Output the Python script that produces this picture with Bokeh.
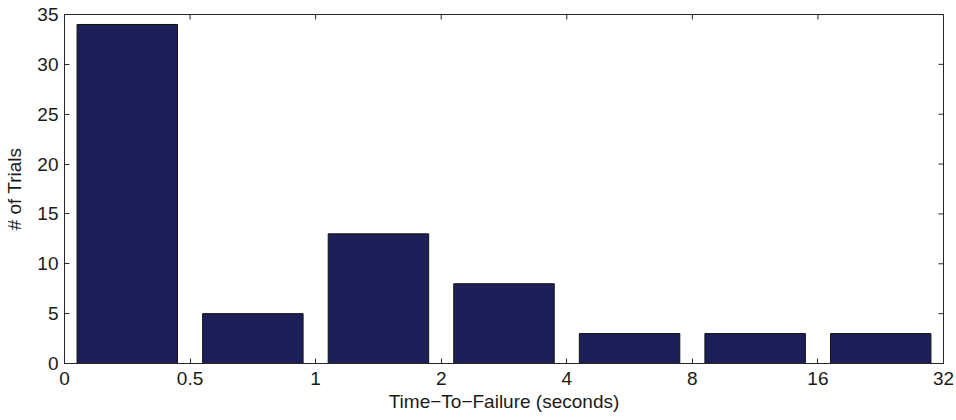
import math
from bokeh.plotting import figure
from bokeh.models import FixedTicker, ColumnDataSource, Range1d
from bokeh.embed import file_html
from bokeh.resources import INLINE

# Data
bin_labels = ["0", "0.5", "1", "2", "4", "8", "16", "32"]
trial_counts = [34, 5, 13, 8, 3, 3, 3]
y_ticks = [0, 5, 10, 15, 20, 25, 30, 35]

centers = [i + 0.5 for i in range(len(trial_counts))]
src = ColumnDataSource(dict(x=centers, top=trial_counts))

FONT = "Liberation Sans"
AX = "#262626"
X_MAX = len(trial_counts)
Y_MAX = y_ticks[-1]

p = figure(width=956, height=420, output_backend="svg", toolbar_location=None,
           x_range=Range1d(0, X_MAX), y_range=Range1d(0, Y_MAX),
           min_border_left=64, min_border_right=13, min_border_top=14, min_border_bottom=57)
p.vbar(x="x", top="top", width=0.8, bottom=0, source=src,
       fill_color="#1c1f58", line_color="#111111", line_width=1)

p.xgrid.visible = False
p.ygrid.visible = False
p.outline_line_color = AX
p.outline_line_width = 1

def style(ax):
    ax.axis_line_color = AX
    ax.major_tick_line_color = AX
    ax.major_tick_in = 5
    ax.major_tick_out = 0
    ax.minor_tick_line_color = None
    ax.major_label_text_font = FONT
    ax.major_label_text_color = "#1a1a1a"
    ax.major_label_text_font_size = "19px"
    ax.axis_label_text_font = FONT
    ax.axis_label_text_font_style = "normal"
    ax.axis_label_text_font_size = "19px"
    ax.axis_label_text_color = "#1a1a1a"

xt = list(range(len(bin_labels)))
xover = {i: lab for i, lab in enumerate(bin_labels)}

xa = p.xaxis[0]
xa.ticker = FixedTicker(ticks=xt)
xa.major_label_overrides = xover
xa.axis_label = "Time\u2212To\u2212Failure (seconds)"
style(xa)
xa.major_label_standoff = 8
xa.axis_label_standoff = 3

ya = p.yaxis[0]
ya.ticker = FixedTicker(ticks=y_ticks)
ya.axis_label = "# of Trials"
style(ya)
ya.major_label_standoff = 6
ya.axis_label_standoff = 9

# mirrored inward ticks on top and right edges of the box
p.ray(x=xt, y=[Y_MAX] * len(xt), length=5, length_units="screen",
      angle=-math.pi / 2, line_color=AX, line_width=1)
p.ray(x=[X_MAX] * len(y_ticks), y=y_ticks, length=5, length_units="screen",
      angle=math.pi, line_color=AX, line_width=1)

open("out.html", "w").write(file_html(p, INLINE))
